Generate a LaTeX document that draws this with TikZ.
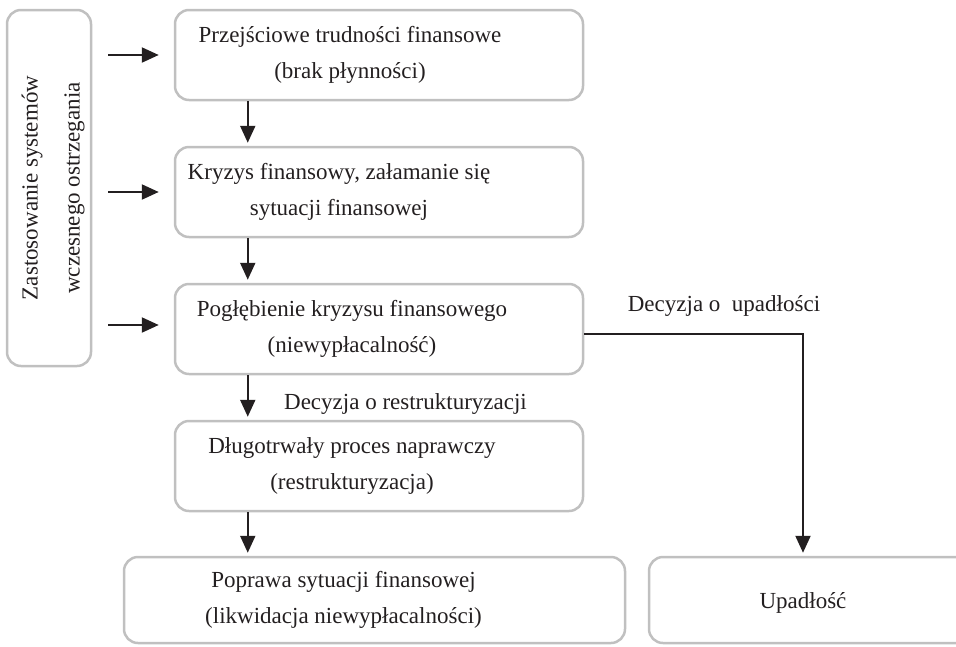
\documentclass[tikz,border=0pt]{standalone}
\usepackage{fontspec}
\setmainfont{Liberation Serif}
\usetikzlibrary{shapes,arrows.meta,positioning,calc}
\definecolor{boxgray}{RGB}{192,192,192}
\definecolor{inkblack}{RGB}{35,31,32}
\tikzstyle{stagebox} = [rectangle, rounded corners=14pt, minimum width=408pt, minimum height=90pt, draw=boxgray, line width=2.5pt, inner sep=0pt]
\tikzstyle{warnbox} = [stagebox, minimum width=84pt, minimum height=356pt]
\tikzstyle{endbox} = [stagebox, minimum width=501pt, minimum height=86pt]
\tikzstyle{stagetext} = [align=center, text=inkblack, inner sep=0pt, font=\fontsize{23}{36.5}\selectfont]
\tikzstyle{arrow} = [line width=2.2pt, -{Triangle[length=17pt,width=15pt]}, color=inkblack, shorten >=3pt]

\begin{document}
\begin{tikzpicture}[x=1pt, y=-1pt, node distance=44.5pt and 21.5pt]
\useasboundingbox (0,0) rectangle (956,646);

% Early warning box
\node[warnbox] (warn) at (49,188) {};
\node[stagetext, rotate=90, font=\fontsize{23}{42}\selectfont, yshift=-4pt] (warntxt) at (warn) {Zastosowanie systemów\\wczesnego ostrzegania};

% Stages
\node[stagebox] (trudnosci) at (379,55) {};
\node[stagebox, below=of trudnosci] (kryzys) {};
\node[stagebox, below=of kryzys] (poglebienie) {};
\node[stagebox, below=of poglebienie] (naprawa) {};
\node[endbox, below=43.5pt of naprawa, xshift=-4.5pt] (poprawa) {};
\node[stagebox, right=of poprawa, minimum width=322pt, minimum height=86pt] (upadlosc) {};

% Stage texts
\node[stagetext, xshift=-29pt] (trudnoscitxt) at (trudnosci) {Przejściowe trudności finansowe\\(brak płynności)};
\node[stagetext, xshift=-40pt] (kryzystxt) at (kryzys) {Kryzys finansowy, załamanie się\\sytuacji finansowej};
\node[stagetext, xshift=-27pt] (poglebienietxt) at (poglebienie) {Pogłębienie kryzysu finansowego\\(niewypłacalność)};
\node[stagetext, xshift=-27pt] (naprawatxt) at (naprawa) {Długotrwały proces naprawczy\\(restrukturyzacja)};
\node[stagetext, xshift=-31pt] (poprawatxt) at (poprawa) {Poprawa sytuacji finansowej\\(likwidacja niewypłacalności)};
\node[stagetext, xshift=-7pt, yshift=-3pt] (upadlosctxt) at (upadlosc) {Upadłość};

% Decision labels
\node[stagetext, anchor=base] (decnaprawa) at (405.5,409) {Decyzja o restrukturyzacji};
\node[stagetext, anchor=base] (decupadlosc) at (724,311) {Decyzja o\ \ upadłości};

% Arrows - warning system
\draw[arrow, shorten <=16pt, shorten >=15pt] (trudnosci -| warn.east) -- (trudnosci.west);
\draw[arrow, shorten <=16pt, shorten >=15pt] (kryzys -| warn.east) -- (kryzys.west);
\draw[arrow, shorten <=16pt, shorten >=15pt] ([yshift=4pt]poglebienie -| warn.east) -- ([yshift=4pt]poglebienie.west);

% Arrows - stages
\draw[arrow] ([xshift=74pt]trudnosci.south west) -- ([xshift=74pt]kryzys.north west);
\draw[arrow] ([xshift=74pt]kryzys.south west) -- ([xshift=74pt]poglebienie.north west);
\draw[arrow] ([xshift=74pt]poglebienie.south west) -- ([xshift=74pt]naprawa.north west);
\draw[arrow] ([xshift=74pt]naprawa.south west) -- ([xshift=74pt]naprawa.south west |- poprawa.north);
\draw[arrow] ([yshift=-5pt]poglebienie.east) -- ([yshift=-5pt]poglebienie.east -| upadlosctxt) -- (upadlosctxt |- upadlosc.north);

\end{tikzpicture}
\end{document}
